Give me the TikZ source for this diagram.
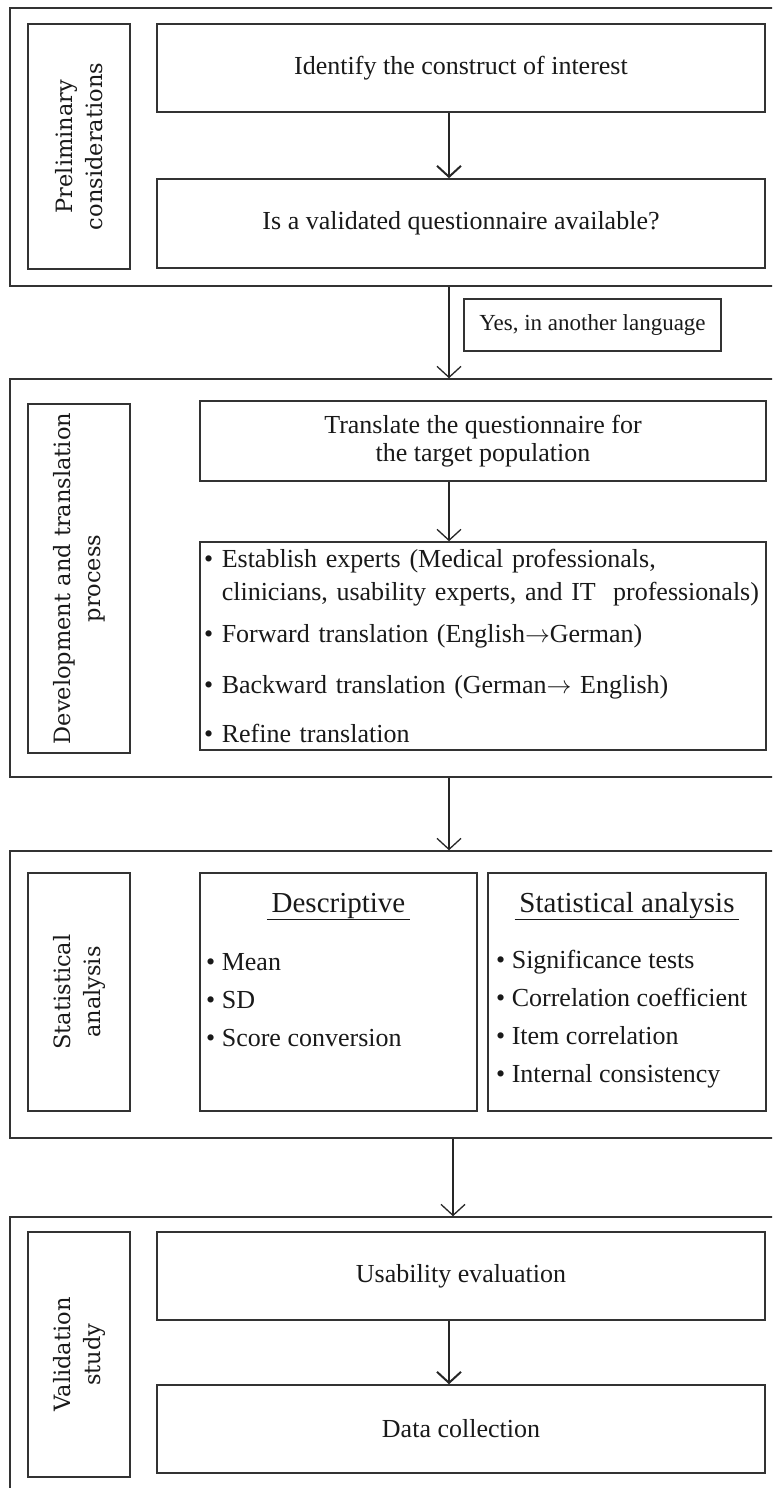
\documentclass[tikz,border=0pt]{standalone}
\usepackage{fontspec}
\setmainfont{Liberation Serif}
\newfontfamily\sidefont{DejaVu Serif}
\usetikzlibrary{arrows.meta,positioning}

\begin{document}
\begin{tikzpicture}[x=1pt,y=-1pt,
    phase/.style={draw=black!80,line width=1.5pt,inner sep=0pt},
    sidebox/.style={draw=black!80,line width=1.6pt,rotate=90,align=center,
      minimum height=102,text=black!90,font=\sidefont\fontsize{22.5}{30}\selectfont},
    stepbox/.style={draw=black!80,line width=1.6pt,align=center,text=black!90,
      font=\fontsize{26}{28}\selectfont},
    panel/.style={draw=black!80,line width=1.6pt},
    notebox/.style={draw=black!80,line width=1.5pt,text=black!90,
      font=\fontsize{23}{26}\selectfont},
    headtext/.style={text=black!90,inner sep=0pt,font=\fontsize{29}{32}\selectfont},
    listtext/.style={text=black!90,align=left,inner sep=0pt,font=\fontsize{26}{38}\selectfont},
    arr/.style={draw=black!85,line width=1.3pt,-{Straight Barb[length=11pt,width=24pt]}},
    arrthick/.style={arr,line width=2pt}]
  \useasboundingbox (0,0) rectangle (772,1488);
  \clip (0,0) rectangle (772,1488);
  \coordinate (axis) at (449,0);
  \coordinate (axisb) at (453,0);

  % preliminary considerations
  \node[phase,minimum width=770,minimum height=278] (prelim) at (395,147) {};
  \node[sidebox,minimum width=245] (lab1) at (79,146.5) {Preliminary\\considerations};
  \node[stepbox,minimum width=608,minimum height=88] (ident) at (461,68) {Identify the construct of interest};
  \node[stepbox,minimum width=608,minimum height=89] (isavail) at (461,223.5) {Is a validated questionnaire available?};
  \draw[arrthick] (ident.south -| axis) -- (isavail.north -| axis);

  \node[notebox,minimum width=257,minimum height=52] (yes) at (592.5,325) {Yes, in another language};

  % development and translation
  \node[phase,minimum width=770,minimum height=398] (devel) at (395,578) {};
  \node[sidebox,minimum width=349] (lab2) at (79,578.5) {Development and translation\\process};
  \node[stepbox,minimum width=566,minimum height=80] (transl) at (483,441) {Translate the questionnaire for\\the target population};
  \node[stepbox,minimum width=566,minimum height=208,text width=558,align=left,inner xsep=4pt,
    font=\fontsize{26}{33}\selectfont] (steps) at (483,646)
    {\textbullet\ Establish experts (Medical professionals,\\
     \phantom{\textbullet\ }clinicians, usability experts, and IT\ \ professionals)\\[9pt]
     \textbullet\ Forward translation (English$\rightarrow$German)\\[18pt]
     \textbullet\ Backward translation (German$\rightarrow$ English)\\[16pt]
     \textbullet\ Refine translation};
  \draw[arr] (prelim.south -| axis) -- (devel.north -| axis);
  \draw[arr] (transl.south -| axis) -- (steps.north -| axis);

  % statistical analysis
  \node[phase,minimum width=770,minimum height=287] (stat) at (395,994.5) {};
  \node[sidebox,minimum width=238] (lab3) at (79,992) {Statistical\\analysis};
  \node[panel,minimum width=277,minimum height=238] (descr) at (338.5,992) {};
  \node[headtext,anchor=base] (descrhead) at (338.5,912) {\underline{\,Descriptive\,}};
  \node[listtext,anchor=north west] (descrlist) at (206,953)
    {\textbullet\ Mean\\ \textbullet\ SD\\ \textbullet\ Score conversion};
  \node[panel,minimum width=278,minimum height=238] (stats) at (627,992) {};
  \node[headtext,anchor=base] (statshead) at (627,912) {\underline{\,Statistical analysis\,}};
  \node[listtext,anchor=north west] (statslist) at (496,950)
    {\textbullet\ Significance tests\\ \textbullet\ Correlation coefficient\\
     \textbullet\ Item correlation\\ \textbullet\ Internal consistency};
  \draw[arr] (devel.south -| axis) -- (stat.north -| axis);

  % validation study
  \node[phase,minimum width=770,minimum height=283] (valid) at (395,1358.5) {};
  \node[sidebox,minimum width=245] (lab4) at (79,1354.5) {Validation\\study};
  \node[stepbox,minimum width=608,minimum height=88] (usab) at (461,1276) {Usability evaluation};
  \node[stepbox,minimum width=608,minimum height=88] (datac) at (461,1429) {Data collection};
  \draw[arr] (stat.south -| axisb) -- (valid.north -| axisb);
  \draw[arrthick] (usab.south -| axis) -- (datac.north -| axis);
\end{tikzpicture}
\end{document}
